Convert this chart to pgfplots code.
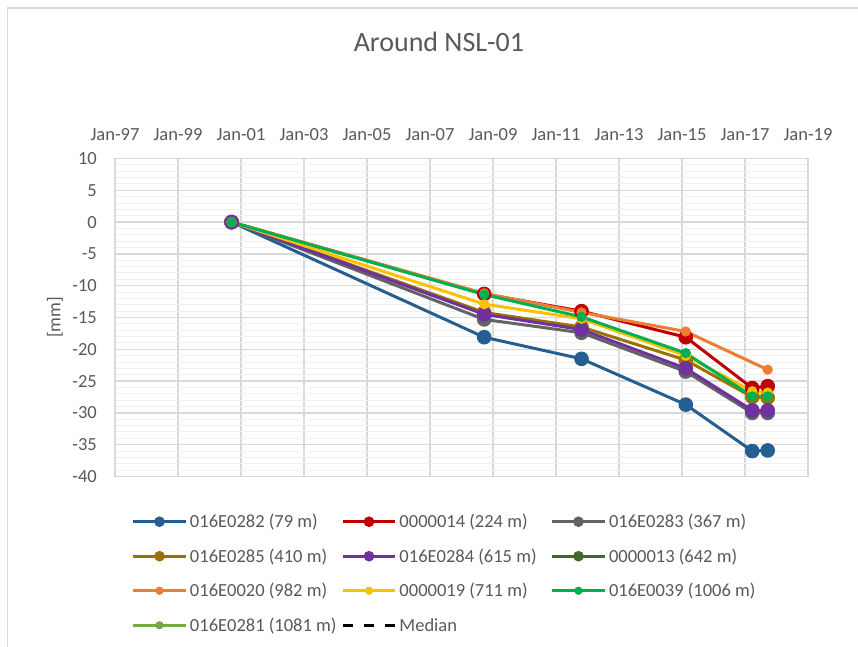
\documentclass[border=0pt]{standalone}
\usepackage{fontspec}
\setmainfont{Carlito}
\usepackage{pgfplots}
\pgfplotsset{compat=1.18}
\definecolor{textgray}{HTML}{595959}
\definecolor{gridgray}{HTML}{D9D9D9}
\definecolor{minorgray}{HTML}{F0F0F0}
\definecolor{cblue}{HTML}{255E91}
\definecolor{cred}{HTML}{C00000}
\definecolor{cgray}{HTML}{636363}
\definecolor{cbrown}{HTML}{997300}
\definecolor{cpurple}{HTML}{7030A0}
\definecolor{cdkgreen}{HTML}{43682B}
\definecolor{corange}{HTML}{ED7D31}
\definecolor{cyellow}{HTML}{FFC000}
\definecolor{cgreen}{HTML}{00B050}
\definecolor{cltgreen}{HTML}{70AD47}
\newcommand{\legtxt}[1]{\hspace{2.7pt}\makebox[151.2pt][l]{#1}}
\begin{document}
\begin{tikzpicture}
\useasboundingbox (0,0) rectangle (858pt,646pt);
\begin{scope}
\clip (0,0) rectangle (858pt,646pt);
\draw[color=gridgray, line width=1.5pt] (7.5pt,-5pt) -- (7.5pt,638pt) -- (870pt,638pt);
\end{scope}
\begin{axis}[
  at={(115pt,169.5pt)}, anchor=south west,
  scale only axis, width=693pt, height=318pt,
  xmin=1997, xmax=2019, ymin=-40, ymax=10,
  xtick={1997,1999,...,2019},
  xticklabels={Jan-97,Jan-99,Jan-01,Jan-03,Jan-05,Jan-07,Jan-09,Jan-11,Jan-13,Jan-15,Jan-17,Jan-19},
  xticklabel pos=top,
  ytick={-40,-35,...,10},
  yticklabels={-40,-35,-30,-25,-20,-15,-10,-5,0,5,10},
  minor y tick num=4,
  major tick length=0pt, minor tick length=0pt,
  xmajorgrids, ymajorgrids, yminorgrids,
  major grid style={draw=gridgray, line width=1.3pt},
  minor grid style={draw=minorgray, line width=1pt},
  axis line style={draw=gridgray, line width=1.3pt},
  tick label style={font=\fontsize{18.5}{22}\selectfont, text=textgray},
  xticklabel style={anchor=base, inner sep=0pt, yshift=18pt},
  yticklabel style={anchor=east, inner sep=0pt, xshift=-18pt},
  ylabel={[mm]},
  every axis y label/.style={at={(axis description cs:-0.0866,0.5)}, rotate=90, anchor=center, font=\fontsize{18.5}{22}\selectfont, text=textgray},
  title={Around NSL-01},
  every axis title/.style={at={(axis description cs:0.4675,1.366)}, anchor=center, font=\fontsize{28}{32}\selectfont, text=textgray},
  legend columns=3,
  legend cell align=left,
  legend style={at={(axis description cs:0.0241,-0.112)}, anchor=north west, draw=none, fill=none, inner sep=0pt, outer sep=0pt,
    column sep=0pt, row sep=15.3pt, font=\fontsize{18.5}{22}\selectfont, text=textgray,
    nodes={inner sep=0pt, text height=15.5pt, text depth=3.7pt}},
  legend image code/.code={\draw[mark repeat=2,mark phase=2,#1] plot coordinates {(0pt,0pt) (26.3pt,0pt) (52.6pt,0pt)};},
  every axis plot/.append style={line width=3pt, mark=*, mark options={solid, line width=1pt}},
]
\addplot[cblue, mark size=6.8pt, legend image post style={mark size=4.8pt}] coordinates {(2000.70,0) (2008.72,-18.1) (2011.81,-21.5) (2015.12,-28.7) (2017.23,-36.0) (2017.72,-35.9)};
\addlegendentry{\legtxt{016E0282 (79 m)}}
\addplot[cred, mark size=6.8pt, legend image post style={mark size=4.8pt}] coordinates {(2000.70,0) (2008.72,-11.3) (2011.81,-14.0) (2015.12,-18.1) (2017.23,-26.1) (2017.72,-25.8)};
\addlegendentry{\legtxt{0000014 (224 m)}}
\addplot[cgray, mark size=6.8pt, legend image post style={mark size=4.8pt}] coordinates {(2000.70,0) (2008.72,-15.3) (2011.81,-17.4) (2015.12,-23.5) (2017.23,-30.0) (2017.72,-30.0)};
\addlegendentry{\legtxt{016E0283 (367 m)}}
\addplot[cbrown, mark size=6.8pt, legend image post style={mark size=4.8pt}] coordinates {(2000.70,0) (2008.72,-14.2) (2011.81,-16.5) (2015.12,-21.7) (2017.23,-27.5) (2017.72,-27.6)};
\addlegendentry{\legtxt{016E0285 (410 m)}}
\addplot[cpurple, mark size=6.8pt, legend image post style={mark size=4.8pt}] coordinates {(2000.70,0) (2008.72,-14.5) (2011.81,-16.9) (2015.12,-23.0) (2017.23,-29.6) (2017.72,-29.6)};
\addlegendentry{\legtxt{016E0284 (615 m)}}
\addlegendimage{cdkgreen, line width=3pt, mark=*, mark options={solid, line width=1pt}, mark size=4.8pt}
\addlegendentry{\legtxt{0000013 (642 m)}}
\addplot[corange, mark size=4.6pt, legend image post style={mark size=3.6pt}] coordinates {(2000.70,0) (2008.72,-11.2) (2011.81,-14.2) (2015.12,-17.2) (2017.72,-23.2)};
\addlegendentry{\legtxt{016E0020 (982 m)}}
\addplot[cyellow, mark size=4.6pt, legend image post style={mark size=3.6pt}] coordinates {(2000.70,0) (2008.72,-12.9) (2011.81,-15.2) (2015.12,-21.0) (2017.23,-26.6) (2017.72,-26.8)};
\addlegendentry{\legtxt{0000019 (711 m)}}
\addplot[cgreen, mark size=4.6pt, legend image post style={mark size=3.6pt}] coordinates {(2000.70,0) (2008.72,-11.4) (2011.81,-14.9) (2015.12,-20.6) (2017.23,-27.4) (2017.72,-27.4)};
\addlegendentry{\legtxt{016E0039 (1006 m)}}
\addlegendimage{cltgreen, line width=3pt, mark=*, mark options={solid, line width=1pt}, mark size=3.6pt}
\addlegendentry{\legtxt{016E0281 (1081 m)}}
\addlegendimage{black, line width=3pt, dash pattern=on 10pt off 11.3pt, no markers}
\addlegendentry{\legtxt{Median}}
\end{axis}
\end{tikzpicture}
\end{document}
